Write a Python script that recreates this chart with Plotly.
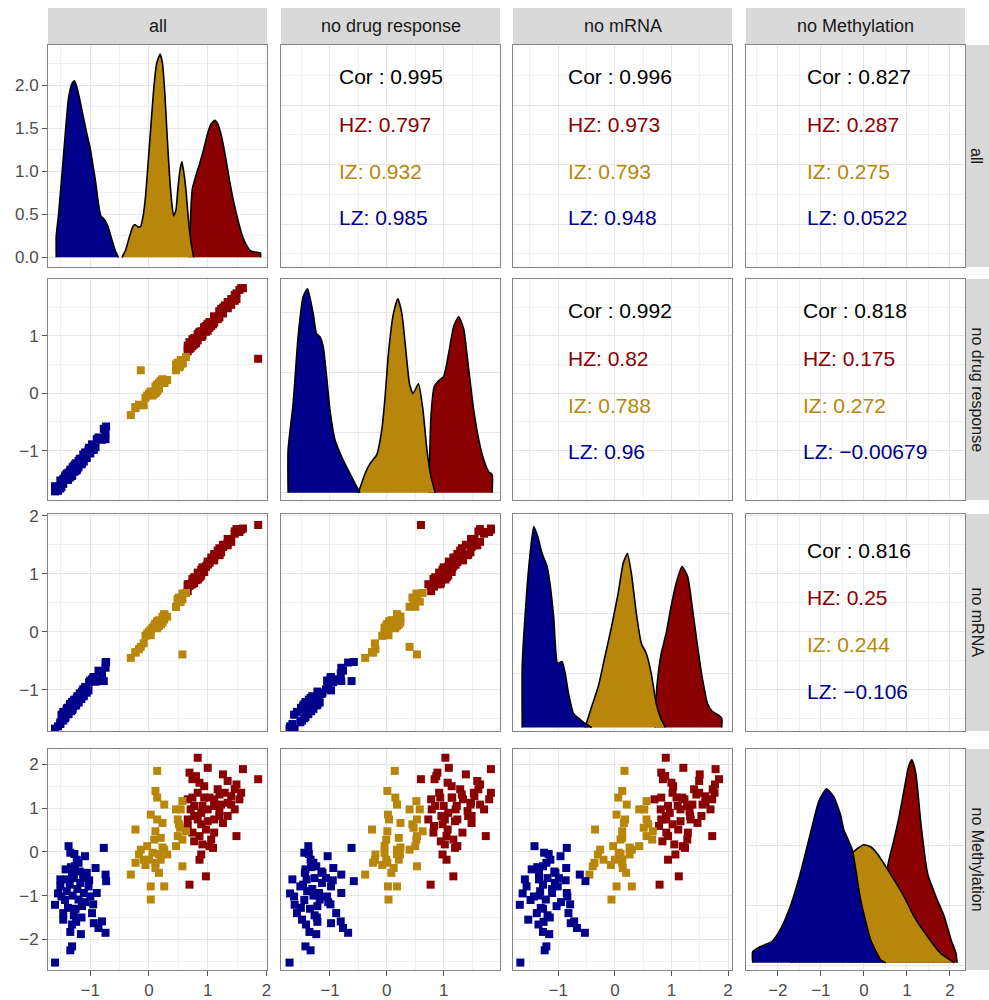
import plotly.graph_objects as go

W, H = 989, 1000

# ---------------- data ----------------
VARS = ["all", "no drug response", "no mRNA", "no Methylation"]
GROUPS = ["HZ", "IZ", "LZ"]          # draw order: HZ, IZ, LZ (LZ on top)
COLORS = {"HZ": "#8B0000", "IZ": "#B8860B", "LZ": "#00008B"}

# LZ samples
LZ_all = [-1.60, -1.34, -1.31, -1.60, -1.46, -1.46, -1.34, -1.31, -1.37, -1.34, -1.40, -1.51, -1.51, -1.49,
          -1.40, -1.31, -1.26, -1.23, -1.17, -1.11, -1.20, -1.14, -1.09, -1.06, -1.03, -1.00, -0.97, -0.91,
          -0.89, -0.94, -0.86, -0.80, -0.74, -0.77, -0.74, -0.73, -1.28, -1.22, -1.30, -1.25, -1.18, -1.35,
          -1.43, -1.15, -1.08, -1.27, -1.33, -1.20, -1.12, -1.38, -1.24, -1.55, -1.02, -0.95, -1.42, -1.16, -1.28]
LZ_noDrug = [-1.71, -1.34, -1.43, -1.62, -1.49, -1.58, -1.36, -1.42, -1.38, -1.45, -1.41, -1.66, -1.52, -1.63,
             -1.40, -1.44, -1.24, -1.34, -1.14, -1.19, -1.18, -1.22, -1.04, -1.13, -0.98, -1.05, -0.89, -0.94,
             -0.80, -0.98, -0.77, -0.81, -0.68, -0.62, -0.80, -0.58, -1.27, -1.31, -1.29, -1.35, -1.15, -1.47,
             -1.45, -1.23, -1.03, -1.37, -1.33, -1.29, -1.07, -1.51, -1.22, -1.70, -0.95, -0.99, -1.43, -1.24, -1.27]
LZ_noMRNA = [-1.67, -1.24, -1.21, -1.68, -1.53, -1.38, -1.27, -1.35, -1.42, -1.25, -1.34, -1.59, -1.56, -1.43,
             -1.32, -1.34, -1.27, -1.14, -1.06, -1.11, -1.22, -1.03, -0.96, -1.05, -1.01, -0.84, -0.82, -0.86,
             -0.85, -0.78, -0.67, -0.72, -0.53, -0.85, -0.62, -0.52, -1.19, -1.11, -1.33, -1.27, -1.07, -1.27,
             -1.49, -1.15, -0.95, -1.17, -1.37, -1.21, -0.99, -1.31, -1.26, -1.63, -0.87, -0.79, -1.47, -1.16, -1.19]
LZ_noMeth = [-2.53, -2.25, -2.16, -1.21, -1.55, -1.40, -1.83, -1.66, 0.13, -0.02, -0.63, -0.63, -0.79, -1.02,
             -0.90, -0.48, -0.33, -0.18, -0.71, -0.94, -1.09, -1.24, -0.10, -0.48, -0.79, -1.02, -1.40, -0.37,
             -0.94, -1.63, -1.74, -1.59, -1.85, 0.09, -0.52, -0.67, -0.60, -0.85, -1.00, -1.30, -0.45, -0.75,
             -1.10, -1.50, -1.15, -0.05, -0.35, -0.25, -0.60, -1.28, -1.60, -0.95, -0.65, -1.20, -0.40, -1.88, -1.45]

# IZ samples
IZ_all = [0.14, 0.11, 0.14, 0.26, 0.03, 0.14, 0.23, 0.46, 0.49, 0.51, 0.54, 0.57, -0.23, 0.11, 0.20, -0.14,
          -0.03, 0.06, -0.17, -0.09, 0.00, 0.11, 0.20, 0.31, 0.11, 0.17, -0.23, -0.31, 0.03, 0.26, 0.03, 0.57,
          0.49, 0.57, 0.46, 0.63, 0.23, 0.09, 0.17, 0.53, -0.06, 0.26]
IZ_noDrug = [0.14, 0.01, 0.15, 0.18, 0.02, 0.04, 0.24, 0.40, 0.53, 0.45, 0.58, 0.52, -0.26, 0.01, 0.21, 0.40,
             -0.04, -0.04, -0.20, -0.21, -0.01, 0.01, 0.21, 0.23, 0.12, 0.08, -0.24, -0.38, 0.02, 0.18, 0.03, 0.53,
             0.53, 0.52, 0.50, 0.63, 0.24, -0.01, 0.18, 0.47, -0.08, 0.18]
IZ_noMRNA = [0.17, 0.13, 0.06, 0.21, 0.03, 0.18, 0.16, 0.43, 0.56, 0.59, 0.52, 0.56, -0.35, 0.13, 0.13, -0.26,
             -0.03, 0.07, -0.30, -0.20, 0.00, 0.13, 0.13, 0.26, 0.14, 0.20, -0.36, -0.45, 0.03, 0.30, -0.06, -0.39,
             0.56, 0.66, 0.43, 0.67, 0.26, 0.10, 0.10, 0.51, -0.07, 0.30]
IZ_noMeth = [1.85, 1.39, 1.24, 1.08, 0.85, 0.74, 0.66, 0.97, 0.74, 0.63, 0.97, 1.16, 0.51, 0.47, 0.32, 0.05,
             0.13, -0.02, -0.06, -0.18, -0.18, -0.25, -0.18, -0.06, -0.37, -0.48, -0.25, -0.52, -0.79, -0.79, -1.09, -0.33,
             0.36, 0.28, 0.13, 0.47, 0.10, 0.28, -0.05, 0.55, -0.30, 0.05]

# HZ samples
HZ_all = [0.83, 1.00, 0.69, 0.74, 0.80, 0.86, 1.26, 1.34, 1.60, 1.86, 1.49, 0.66, 0.74, 0.83, 0.94, 1.03, 1.11, 1.20,
          1.29, 1.40, 1.54, 0.91, 1.00, 1.11, 1.23, 1.34, 1.46, 1.20, 0.71, 0.77, 0.66, 0.83, 0.89, 1.00, 1.11, 1.20,
          1.34, 0.66, 0.74, 0.86, 0.97, 1.11, 1.06, 0.77, 0.91, 1.03, 0.89, 0.86, 1.09, 1.49, 0.97, 0.69, 1.40, 1.17,
          1.46, 0.94, 0.89, 1.26, 0.77, 1.57]
HZ_noDrug = [1.03, 1.09, 0.89, 0.84, 0.87, 1.07, 1.39, 1.59, 1.83, 0.60, 1.64, 0.78, 0.94, 0.92, 1.15, 1.14, 1.34, 1.32,
             1.53, 1.54, 1.80, 1.00, 1.21, 1.23, 1.47, 1.48, 1.71, 1.42, 0.79, 0.96, 0.73, 1.02, 0.98, 1.20, 1.24, 1.43,
             1.49, 0.83, 0.82, 1.05, 1.07, 1.33, 1.17, 0.95, 1.02, 1.24, 0.98, 1.05, 1.20, 1.74, 1.17, 0.77, 1.64, 1.29,
             1.61, 1.14, 1.08, 1.49, 0.85, 1.83]
HZ_noMRNA = [0.90, 1.21, 0.82, 0.85, 0.89, 1.00, 1.50, 1.49, 1.78, 1.84, 1.77, 0.70, 0.82, 1.02, 1.09, 1.19, 1.23, 1.44,
             1.49, 1.60, 1.72, 1.11, 1.16, 1.28, 1.37, 1.60, 1.69, 1.32, 0.81, 0.90, 0.82, 0.91, 1.02, 1.16, 1.34, 1.33,
             1.53, 0.78, 0.91, 0.94, 1.12, 1.29, 1.28, 0.84, 1.05, 1.20, 1.07, 0.94, 1.24, 1.72, 1.13, 0.79, 1.55, 1.40,
             1.73, 1.03, 0.97, 1.46, 0.94, 1.76]
HZ_noMeth = [2.15, 1.92, 1.81, 1.66, 1.73, 1.58, 1.77, 1.62, 1.89, 1.66, 1.54, 1.20, 1.24, 1.35, 1.24, 1.24, 1.20, 1.31,
             1.35, 1.27, 1.20, 1.05, 0.97, 1.05, 1.08, 1.12, 0.97, 0.93, 0.97, 0.82, 0.74, 0.74, 0.63, 0.70, 0.74, 0.82,
             0.82, 0.59, 0.44, 0.36, 0.51, 0.44, 0.28, 0.24, 0.17, 0.13, -0.06, -0.18, 0.09, 0.36, -0.56, -0.75, 1.08, 1.43,
             1.43, 1.50, 0.89, 0.66, 1.05, 1.35]

SAMPLES = {
    "LZ": [LZ_all, LZ_noDrug, LZ_noMRNA, LZ_noMeth],
    "IZ": [IZ_all, IZ_noDrug, IZ_noMRNA, IZ_noMeth],
    "HZ": [HZ_all, HZ_noDrug, HZ_noMRNA, HZ_noMeth],
}

# density curves (diagonal). "all" in density units; others in relative height units
dens_all_LZ_x = [-1.58, -1.54, -1.49, -1.43, -1.37, -1.31, -1.27, -1.23, -1.17, -1.11, -1.06, -1.00, -0.95, -0.91,
                 -0.86, -0.82, -0.76, -0.70, -0.63, -0.57, -0.52]
dens_all_LZ_y = [0.24, 0.50, 0.90, 1.40, 1.85, 2.02, 2.05, 1.98, 1.80, 1.60, 1.44, 1.26, 1.05, 0.88,
                 0.62, 0.48, 0.44, 0.36, 0.20, 0.07, 0.0]
dens_all_IZ_x = [-0.46, -0.40, -0.34, -0.28, -0.24, -0.18, -0.14, -0.10, -0.06, -0.02, 0.03, 0.08, 0.13, 0.19,
                 0.23, 0.27, 0.31, 0.35, 0.39, 0.42, 0.46, 0.49, 0.53, 0.56, 0.59, 0.63, 0.67, 0.71, 0.76]
dens_all_IZ_y = [0.0, 0.08, 0.22, 0.35, 0.38, 0.35, 0.36, 0.48, 0.70, 1.05, 1.50, 1.95, 2.25, 2.36,
                 2.25, 1.90, 1.40, 0.95, 0.62, 0.48, 0.55, 0.78, 1.02, 1.11, 1.00, 0.78, 0.45, 0.20, 0.0]
dens_all_HZ_x = [0.69, 0.71, 0.74, 0.80, 0.86, 0.93, 1.00, 1.06, 1.12, 1.17, 1.23, 1.30, 1.37, 1.45, 1.52,
                 1.59, 1.66, 1.72, 1.80, 1.90]
dens_all_HZ_y = [0.0, 0.50, 0.80, 0.95, 1.08, 1.25, 1.44, 1.55, 1.59, 1.55, 1.42, 1.18, 0.90, 0.62, 0.42,
                 0.25, 0.14, 0.08, 0.06, 0.05]

dens_nodrug_LZ_x = [-1.735, -1.647, -1.559, -1.471, -1.393, -1.294, -1.235, -1.176, -1.118, -1.058, -1.0, -0.912,
                    -0.794, -0.647, -0.529, -0.471]
dens_nodrug_LZ_y = [43, 89, 156, 196, 204, 179, 159, 156, 146, 116, 83, 53, 36, 19, 6, 0]
dens_nodrug_IZ_x = [-0.50, -0.383, -0.295, -0.176, -0.088, -0.03, 0.028, 0.116, 0.194, 0.265, 0.323, 0.399, 0.459,
                    0.557, 0.635, 0.705, 0.776, 0.852]
dens_nodrug_IZ_y = [0, 19, 29, 38, 63, 96, 139, 179, 194, 179, 149, 109, 99, 109, 83, 43, 16, 0]
dens_nodrug_HZ_x = [0.741, 0.776, 0.834, 0.910, 0.998, 1.086, 1.175, 1.263, 1.351, 1.44, 1.527, 1.616, 1.704,
                    1.792, 1.852]
dens_nodrug_HZ_y = [0, 76, 106, 112, 116, 139, 166, 176, 164, 123, 83, 53, 33, 21, 18]

dens_nomrna_LZ_x = [-1.637, -1.579, -1.503, -1.433, -1.363, -1.286, -1.198, -1.14, -1.082, -1.012, -0.935, -0.877,
                    -0.819, -0.731, -0.614, -0.497, -0.409]
dens_nomrna_LZ_y = [61, 118, 171, 201, 191, 174, 161, 141, 111, 64, 66, 54, 34, 14, 8, 3, 0]
dens_nomrna_IZ_x = [-0.526, -0.409, -0.293, -0.175, -0.058, 0.058, 0.146, 0.222, 0.292, 0.380, 0.468, 0.556,
                    0.643, 0.731, 0.819, 0.895]
dens_nomrna_IZ_y = [0, 21, 41, 71, 101, 134, 164, 174, 154, 114, 84, 74, 54, 24, 8, 0]
dens_nomrna_HZ_x = [0.708, 0.743, 0.819, 0.906, 0.994, 1.082, 1.187, 1.286, 1.374, 1.462, 1.55, 1.637, 1.725,
                    1.813, 1.889]
dens_nomrna_HZ_y = [0, 41, 74, 94, 121, 144, 161, 151, 118, 81, 48, 24, 16, 13, 9]

dens_nometh_LZ_x = [-2.584, -2.414, -2.14, -1.946, -1.713, -1.479, -1.245, -1.051, -0.871, -0.70, -0.544, -0.467,
                    -0.271, -0.077, 0.156, 0.39, 0.507]
dens_nometh_LZ_y = [11, 16, 21, 33, 56, 89, 129, 161, 174, 166, 148, 133, 113, 63, 23, 3, 0]
dens_nometh_IZ_x = [-1.7, -1.2, -0.8, -0.5, -0.3, -0.154, 0.0, 0.156, 0.313, 0.467, 0.70, 0.935, 1.168, 1.481,
                    1.792, 2.103]
dens_nometh_IZ_y = [0, 20, 55, 90, 108, 114, 118, 116, 109, 99, 83, 66, 46, 26, 9, 0]
dens_nometh_HZ_x = [-0.3, 0.0, 0.3, 0.5, 0.584, 0.70, 0.818, 0.935, 1.037, 1.114, 1.208, 1.325, 1.481, 1.675,
                    1.869, 2.026, 2.143, 2.166]
dens_nometh_HZ_y = [0, 15, 50, 85, 103, 123, 146, 173, 196, 203, 189, 139, 89, 66, 46, 23, 9, 0]

DENS = {
    0: {"LZ": (dens_all_LZ_x, dens_all_LZ_y), "IZ": (dens_all_IZ_x, dens_all_IZ_y), "HZ": (dens_all_HZ_x, dens_all_HZ_y)},
    1: {"LZ": (dens_nodrug_LZ_x, dens_nodrug_LZ_y), "IZ": (dens_nodrug_IZ_x, dens_nodrug_IZ_y), "HZ": (dens_nodrug_HZ_x, dens_nodrug_HZ_y)},
    2: {"LZ": (dens_nomrna_LZ_x, dens_nomrna_LZ_y), "IZ": (dens_nomrna_IZ_x, dens_nomrna_IZ_y), "HZ": (dens_nomrna_HZ_x, dens_nomrna_HZ_y)},
    3: {"LZ": (dens_nometh_LZ_x, dens_nometh_LZ_y), "IZ": (dens_nometh_IZ_x, dens_nometh_IZ_y), "HZ": (dens_nometh_HZ_x, dens_nometh_HZ_y)},
}

# correlation labels (Cor, HZ, IZ, LZ)
cor_all_nodrug = ["0.995", "0.797", "0.932", "0.985"]
cor_all_nomrna = ["0.996", "0.973", "0.793", "0.948"]
cor_all_nometh = ["0.827", "0.287", "0.275", "0.0522"]
cor_nodrug_nomrna = ["0.992", "0.82", "0.788", "0.96"]
cor_nodrug_nometh = ["0.818", "0.175", "0.272", "\u22120.00679"]
cor_nomrna_nometh = ["0.816", "0.25", "0.244", "\u22120.106"]
COR = {(0, 1): cor_all_nodrug, (0, 2): cor_all_nomrna, (0, 3): cor_all_nometh,
       (1, 2): cor_nodrug_nomrna, (1, 3): cor_nodrug_nometh, (2, 3): cor_nomrna_nometh}
COR_PREFIX = ["Cor : ", "HZ: ", "IZ: ", "LZ: "]
COR_COLORS = ["#000000", COLORS["HZ"], COLORS["IZ"], COLORS["LZ"]]

# ---------------- layout geometry (pixels) ----------------
COL_PX = [(48, 267), (281, 500), (513, 732), (746, 965)]
ROW_PX = [(45, 267), (279, 500), (514, 731), (749, 970)]
X_RANGE = [[-1.72, 2.01], [-1.86, 1.99], [-1.80, 2.07], [-2.74, 2.35]]
Y_RANGE = [[-1.72, 2.01], [-1.86, 1.99], [-1.71, 2.03], [-2.70, 2.35]]
DENS_RANGE = {0: [-0.113, 2.465], 1: [-7.3, 213.7], 2: [-3.5, 213.5], 3: [-7.3, 213.7]}
DENS_TICK0 = {1: 0, 2: -6, 3: -3}
TEXT_LEFT = {(0, 1): 337, (0, 2): 566, (0, 3): 805, (1, 2): 566, (1, 3): 801, (2, 3): 805}
TEXT_TOP = {0: 77, 1: 311, 2: 550}
TEXT_STEP = 47

FONT = "Liberation Sans, Arial, Helvetica, sans-serif"
GRID = "#E6E6E6"
MINOR = "#F0F0F0"
BORDER = "#858585"


def px_x(p):
    return p / W


def px_y(p):
    return 1 - p / H


fig = go.Figure()
layout = dict(width=W, height=H, margin=dict(l=0, r=0, t=0, b=0), paper_bgcolor="white",
              plot_bgcolor="white", showlegend=False, font=dict(family=FONT))
annotations = []
shapes = []

for i in range(4):
    for j in range(4):
        k = i * 4 + j + 1
        xname = "x" if k == 1 else f"x{k}"
        yname = "y" if k == 1 else f"y{k}"
        xkey = "xaxis" if k == 1 else f"xaxis{k}"
        ykey = "yaxis" if k == 1 else f"yaxis{k}"
        bottom = i == 3
        left = j == 0
        layout[xkey] = dict(
            domain=[px_x(COL_PX[j][0]), px_x(COL_PX[j][1])], anchor=yname, range=X_RANGE[j],
            tick0=0, dtick=1, showgrid=True, gridcolor=GRID, gridwidth=1,
            minor=dict(tick0=0, dtick=0.5, showgrid=True, gridcolor=MINOR, gridwidth=0.7),
            zeroline=False, showline=True, mirror=True, linecolor=BORDER, linewidth=1,
            showticklabels=bottom, ticks="outside" if bottom else "", ticklen=5, tickcolor="#555555",
            tickfont=dict(size=17, color="#4D4D4D", family=FONT), automargin=False, fixedrange=True)
        if i == j:
            if i == 0:
                yr = DENS_RANGE[0]
                ygrid = dict(tick0=0, dtick=0.5, minor=dict(tick0=0, dtick=0.25, showgrid=True,
                                                              gridcolor=MINOR, gridwidth=0.7))
            else:
                yr = DENS_RANGE[i]
                ygrid = dict(tick0=DENS_TICK0[i], dtick=60, minor=dict(showgrid=False))
        else:
            yr = Y_RANGE[i]
            ygrid = dict(tick0=0, dtick=1, minor=dict(tick0=0, dtick=0.5, showgrid=True,
                                                        gridcolor=MINOR, gridwidth=0.7))
        layout[ykey] = dict(
            domain=[px_y(ROW_PX[i][1]), px_y(ROW_PX[i][0])], anchor=xname, range=yr,
            showgrid=True, gridcolor=GRID, gridwidth=1,
            zeroline=False, showline=True, mirror=True, linecolor=BORDER, linewidth=1,
            showticklabels=left, ticks="outside" if left else "", ticklen=5, tickcolor="#555555",
            tickfont=dict(size=17, color="#4D4D4D", family=FONT), automargin=False, fixedrange=True,
            tickformat=".1f" if (i == 0 and j == 0) else None, **ygrid)

        if i == j:
            for g in GROUPS:
                xs, ys = DENS[i][g]
                poly_x = [xs[0]] + list(xs) + [xs[-1]]
                poly_y = [0] + list(ys) + [0]
                fig.add_trace(go.Scatter(x=poly_x, y=poly_y, mode="lines", fill="toself",
                                         fillcolor=COLORS[g],
                                         line=dict(color="black", width=1.6, shape="spline", smoothing=0.5),
                                         xaxis=xname, yaxis=yname, hoverinfo="skip"))
        elif i > j:
            for g in GROUPS:
                fig.add_trace(go.Scatter(x=SAMPLES[g][j], y=SAMPLES[g][i], mode="markers",
                                         marker=dict(symbol="square", size=8, color=COLORS[g],
                                                     line=dict(width=0)),
                                         xaxis=xname, yaxis=yname, hoverinfo="skip"))
        else:
            vals = COR[(i, j)]
            for n in range(4):
                annotations.append(dict(
                    x=px_x(TEXT_LEFT[(i, j)]), y=px_y(TEXT_TOP[i] + n * TEXT_STEP), xref="paper", yref="paper",
                    text=COR_PREFIX[n] + vals[n], showarrow=False, xanchor="left", yanchor="middle",
                    font=dict(size=21, color=COR_COLORS[n], family=FONT)))
            # empty trace so the panel axes are drawn
            fig.add_trace(go.Scatter(x=[None], y=[None], mode="markers", xaxis=xname, yaxis=yname,
                                     hoverinfo="skip"))

# strips
for j in range(4):
    shapes.append(dict(type="rect", xref="paper", yref="paper", x0=px_x(COL_PX[j][0]), x1=px_x(COL_PX[j][1]),
                       y0=px_y(44), y1=px_y(8), fillcolor="#D9D9D9", line=dict(width=0), layer="below"))
    annotations.append(dict(x=px_x((COL_PX[j][0] + COL_PX[j][1]) / 2), y=px_y(26), xref="paper", yref="paper",
                            text=VARS[j], showarrow=False, xanchor="center", yanchor="middle",
                            font=dict(size=18, color="#1A1A1A", family=FONT)))
for i in range(4):
    shapes.append(dict(type="rect", xref="paper", yref="paper", x0=px_x(966), x1=1.0,
                       y0=px_y(ROW_PX[i][1]), y1=px_y(ROW_PX[i][0]), fillcolor="#D9D9D9",
                       line=dict(width=0), layer="below"))
    annotations.append(dict(x=px_x(977), y=px_y((ROW_PX[i][0] + ROW_PX[i][1]) / 2), xref="paper",
                            yref="paper", text=VARS[i], showarrow=False, textangle=90,
                            xanchor="center", yanchor="middle", borderpad=0,
                            font=dict(size=16, color="#1A1A1A", family=FONT)))

layout["annotations"] = annotations
layout["shapes"] = shapes
fig.update_layout(**layout)
fig.write_html("out.html")
